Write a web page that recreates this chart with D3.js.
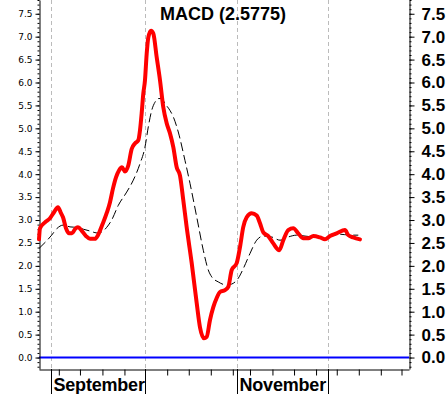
<!DOCTYPE html>
<html>
<head>
<meta charset="utf-8">
<script src="https://cdn.jsdelivr.net/npm/d3@7"></script>
<style>
  body { margin: 0; background: #fff; }
  svg { display: block; }
</style>
</head>
<body>
<div id="chart"></div>
<script>
// trading-day index (0 = left edge of plot) and values
const macdDay = [0, 0.23, 1.36, 2.5, 3.41, 4.31, 4.99, 5.45, 6.13, 6.81, 7.49, 8.17, 8.85, 9.76, 10.67, 11.58, 12.71, 13.39, 14.3, 15.44, 16.12, 16.8, 17.48, 18.16, 18.84, 19.52, 20.27, 21.04, 21.79, 22.54, 22.93, 23.31, 23.68, 24.06, 24.45, 24.81, 25.43, 25.95, 26.72, 27.47, 28.22, 28.99, 29.74, 30.49, 31.26, 32.01, 32.76, 33.53, 34.67, 35.8, 36.55, 37.46, 38.07, 38.82, 39.57, 40.34, 41.09, 42.22, 42.97, 43.75, 44.88, 45.63, 46.38, 47.15, 48.29, 49.42, 50.17, 50.92, 52.05, 53.19, 54.55, 55.46, 56.59, 57.73, 58.86, 60.0, 61.14, 62.27, 63.79, 64.93, 66.06, 67.58, 69.47, 70.22, 71.35, 72.87];
const macdValue = [2.58, 2.82, 2.95, 3.04, 3.17, 3.28, 3.15, 3.06, 2.82, 2.71, 2.71, 2.8, 2.84, 2.76, 2.65, 2.59, 2.59, 2.67, 2.88, 3.17, 3.39, 3.69, 3.93, 4.08, 4.15, 4.06, 4.19, 4.55, 4.67, 4.74, 4.96, 5.33, 5.76, 6.05, 6.63, 6.98, 7.13, 7.07, 6.55, 6.05, 5.46, 5.11, 4.89, 4.59, 4.15, 3.97, 3.43, 2.84, 2.06, 1.19, 0.66, 0.42, 0.45, 0.82, 1.1, 1.3, 1.43, 1.47, 1.54, 1.91, 2.06, 2.41, 2.85, 3.06, 3.15, 3.1, 2.93, 2.73, 2.65, 2.49, 2.34, 2.56, 2.78, 2.82, 2.71, 2.6, 2.6, 2.65, 2.62, 2.58, 2.65, 2.71, 2.78, 2.67, 2.62, 2.5775];

const signalDay = [0, 2.88, 4.02, 5.52, 7.04, 8.56, 10.06, 11.58, 13.1, 14.23, 15.37, 16.5, 18.0, 19.91, 21.41, 22.93, 24.06, 24.81, 25.58, 26.33, 27.08, 27.85, 28.6, 29.74, 30.49, 31.62, 33.14, 34.28, 35.8, 37.3, 38.43, 39.21, 40.7, 42.61, 44.11, 45.24, 46.38, 47.9, 49.42, 50.92, 52.83, 54.71, 56.59, 58.5, 60.39, 62.27, 64.54, 66.45, 68.33, 70.6, 72.49];
const signalValue = [2.38, 2.67, 2.81, 2.89, 2.85, 2.84, 2.8, 2.76, 2.72, 2.74, 2.84, 3.0, 3.32, 3.61, 3.87, 4.23, 4.59, 5.03, 5.39, 5.57, 5.65, 5.65, 5.54, 5.39, 5.25, 4.92, 4.3, 3.8, 3.07, 2.34, 1.91, 1.76, 1.65, 1.58, 1.62, 1.73, 1.94, 2.27, 2.56, 2.65, 2.63, 2.56, 2.63, 2.67, 2.65, 2.63, 2.62, 2.65, 2.69, 2.67, 2.67];

const weekTicks = [4.5, 9.3, 14.4, 19.4, 29.1, 34.0, 39.0, 44.0, 47.9, 53.0, 57.9, 62.9, 67.6, 72.6, 77.6, 82.3];
const monthStarts = [2.65, 24.1, 45.0, 65.7];
const monthLabels = ["September", "", "November", ""];
const yMajor = d3.range(0, 7.51, 0.5);
const yMinor = d3.range(-0.2, 7.81, 0.1).map(v => +v.toFixed(1));
const lastValue = 2.5775;

const W = 447, H = 394;
const svg = d3.select("#chart").append("svg")
    .attr("width", W)
    .attr("height", H);

const x = d3.scaleLinear().domain([0, 84]).range([39, 409]);
const y = d3.scaleLinear().domain([-0.25, 7.8]).range([369, 0]);

// month grid lines
svg.append("g")
    .selectAll("line")
    .data(monthStarts)
    .join("line")
    .attr("x1", d => Math.round(x(d)) + 0.5)
    .attr("x2", d => Math.round(x(d)) + 0.5)
    .attr("y1", 0)
    .attr("y2", y.range()[0])
    .attr("stroke", "#bbbbbb")
    .attr("stroke-dasharray", "4,3");

// zero line
svg.append("line")
    .attr("x1", x.range()[0])
    .attr("x2", x.range()[1])
    .attr("y1", y(0))
    .attr("y2", y(0))
    .attr("stroke", "#0000ff")
    .attr("stroke-width", 2);

// left axis
const leftMinor = svg.append("g")
    .attr("transform", "translate(39.5,0)")
    .call(d3.axisLeft(y).tickValues(yMinor).tickSize(2).tickSizeOuter(0).tickFormat(""));
leftMinor.select(".domain").remove();
svg.append("g")
    .attr("transform", "translate(39.5,0)")
    .call(d3.axisLeft(y).tickValues(yMajor).tickSize(4).tickSizeOuter(0).tickPadding(3).tickFormat(d3.format(".1f")))
    .call(g => g.selectAll("text")
        .style("font-family", "'DejaVu Sans', sans-serif")
        .style("font-size", "9px")
        .attr("fill", "#000"));

// right axis
const rightMinor = svg.append("g")
    .attr("transform", "translate(409.5,0)")
    .call(d3.axisRight(y).tickValues(yMinor).tickSize(2).tickSizeOuter(0).tickFormat(""));
rightMinor.select(".domain").remove();
svg.append("g")
    .attr("transform", "translate(409.5,0)")
    .call(d3.axisRight(y).tickValues(yMajor).tickSize(5).tickSizeOuter(0).tickPadding(7).tickFormat(d3.format(".1f")))
    .call(g => g.selectAll("text")
        .style("font-family", "'Liberation Sans', Arial, sans-serif")
        .style("font-size", "17px")
        .style("font-weight", "bold")
        .attr("fill", "#000"));

// bottom axis with weekly ticks
svg.append("g")
    .attr("transform", "translate(0,369.5)")
    .call(d3.axisBottom(x).tickValues(weekTicks).tickSize(6).tickSizeOuter(0).tickFormat(""));

// month separators and labels
const months = svg.append("g")
    .selectAll("g")
    .data(monthStarts)
    .join("g")
    .attr("transform", d => `translate(${Math.round(x(d)) + 0.5},369)`);
months.append("line")
    .attr("y1", 0)
    .attr("y2", 25)
    .attr("stroke", "#000");
months.append("text")
    .attr("x", 2)
    .attr("y", 21.5)
    .style("font-family", "'Liberation Sans', Arial, sans-serif")
    .style("font-size", "18px")
    .style("font-weight", "bold")
    .style("letter-spacing", "-0.2px")
    .text((d, i) => monthLabels[i]);

// signal line (dashed)
const signalLine = d3.line()
    .x((d, i) => x(signalDay[i]))
    .y(d => y(d))
    .curve(d3.curveMonotoneX);
svg.append("path")
    .datum(signalValue)
    .attr("d", signalLine)
    .attr("fill", "none")
    .attr("stroke", "#000")
    .attr("stroke-width", 1)
    .attr("stroke-dasharray", "9,4");

// MACD line
const macdLine = d3.line()
    .x((d, i) => x(macdDay[i]))
    .y(d => y(d))
    .curve(d3.curveMonotoneX);
svg.append("path")
    .datum(macdValue)
    .attr("d", macdLine)
    .attr("fill", "none")
    .attr("stroke", "#ff0000")
    .attr("stroke-width", 4)
    .attr("stroke-linejoin", "round")
    .attr("stroke-linecap", "round");

// title
svg.append("text")
    .attr("x", 223)
    .attr("y", 20)
    .attr("text-anchor", "middle")
    .style("font-family", "'Liberation Sans', Arial, sans-serif")
    .style("font-size", "18px")
    .style("font-weight", "bold")
    .text(`MACD (${lastValue})`);
</script>
</body>
</html>
